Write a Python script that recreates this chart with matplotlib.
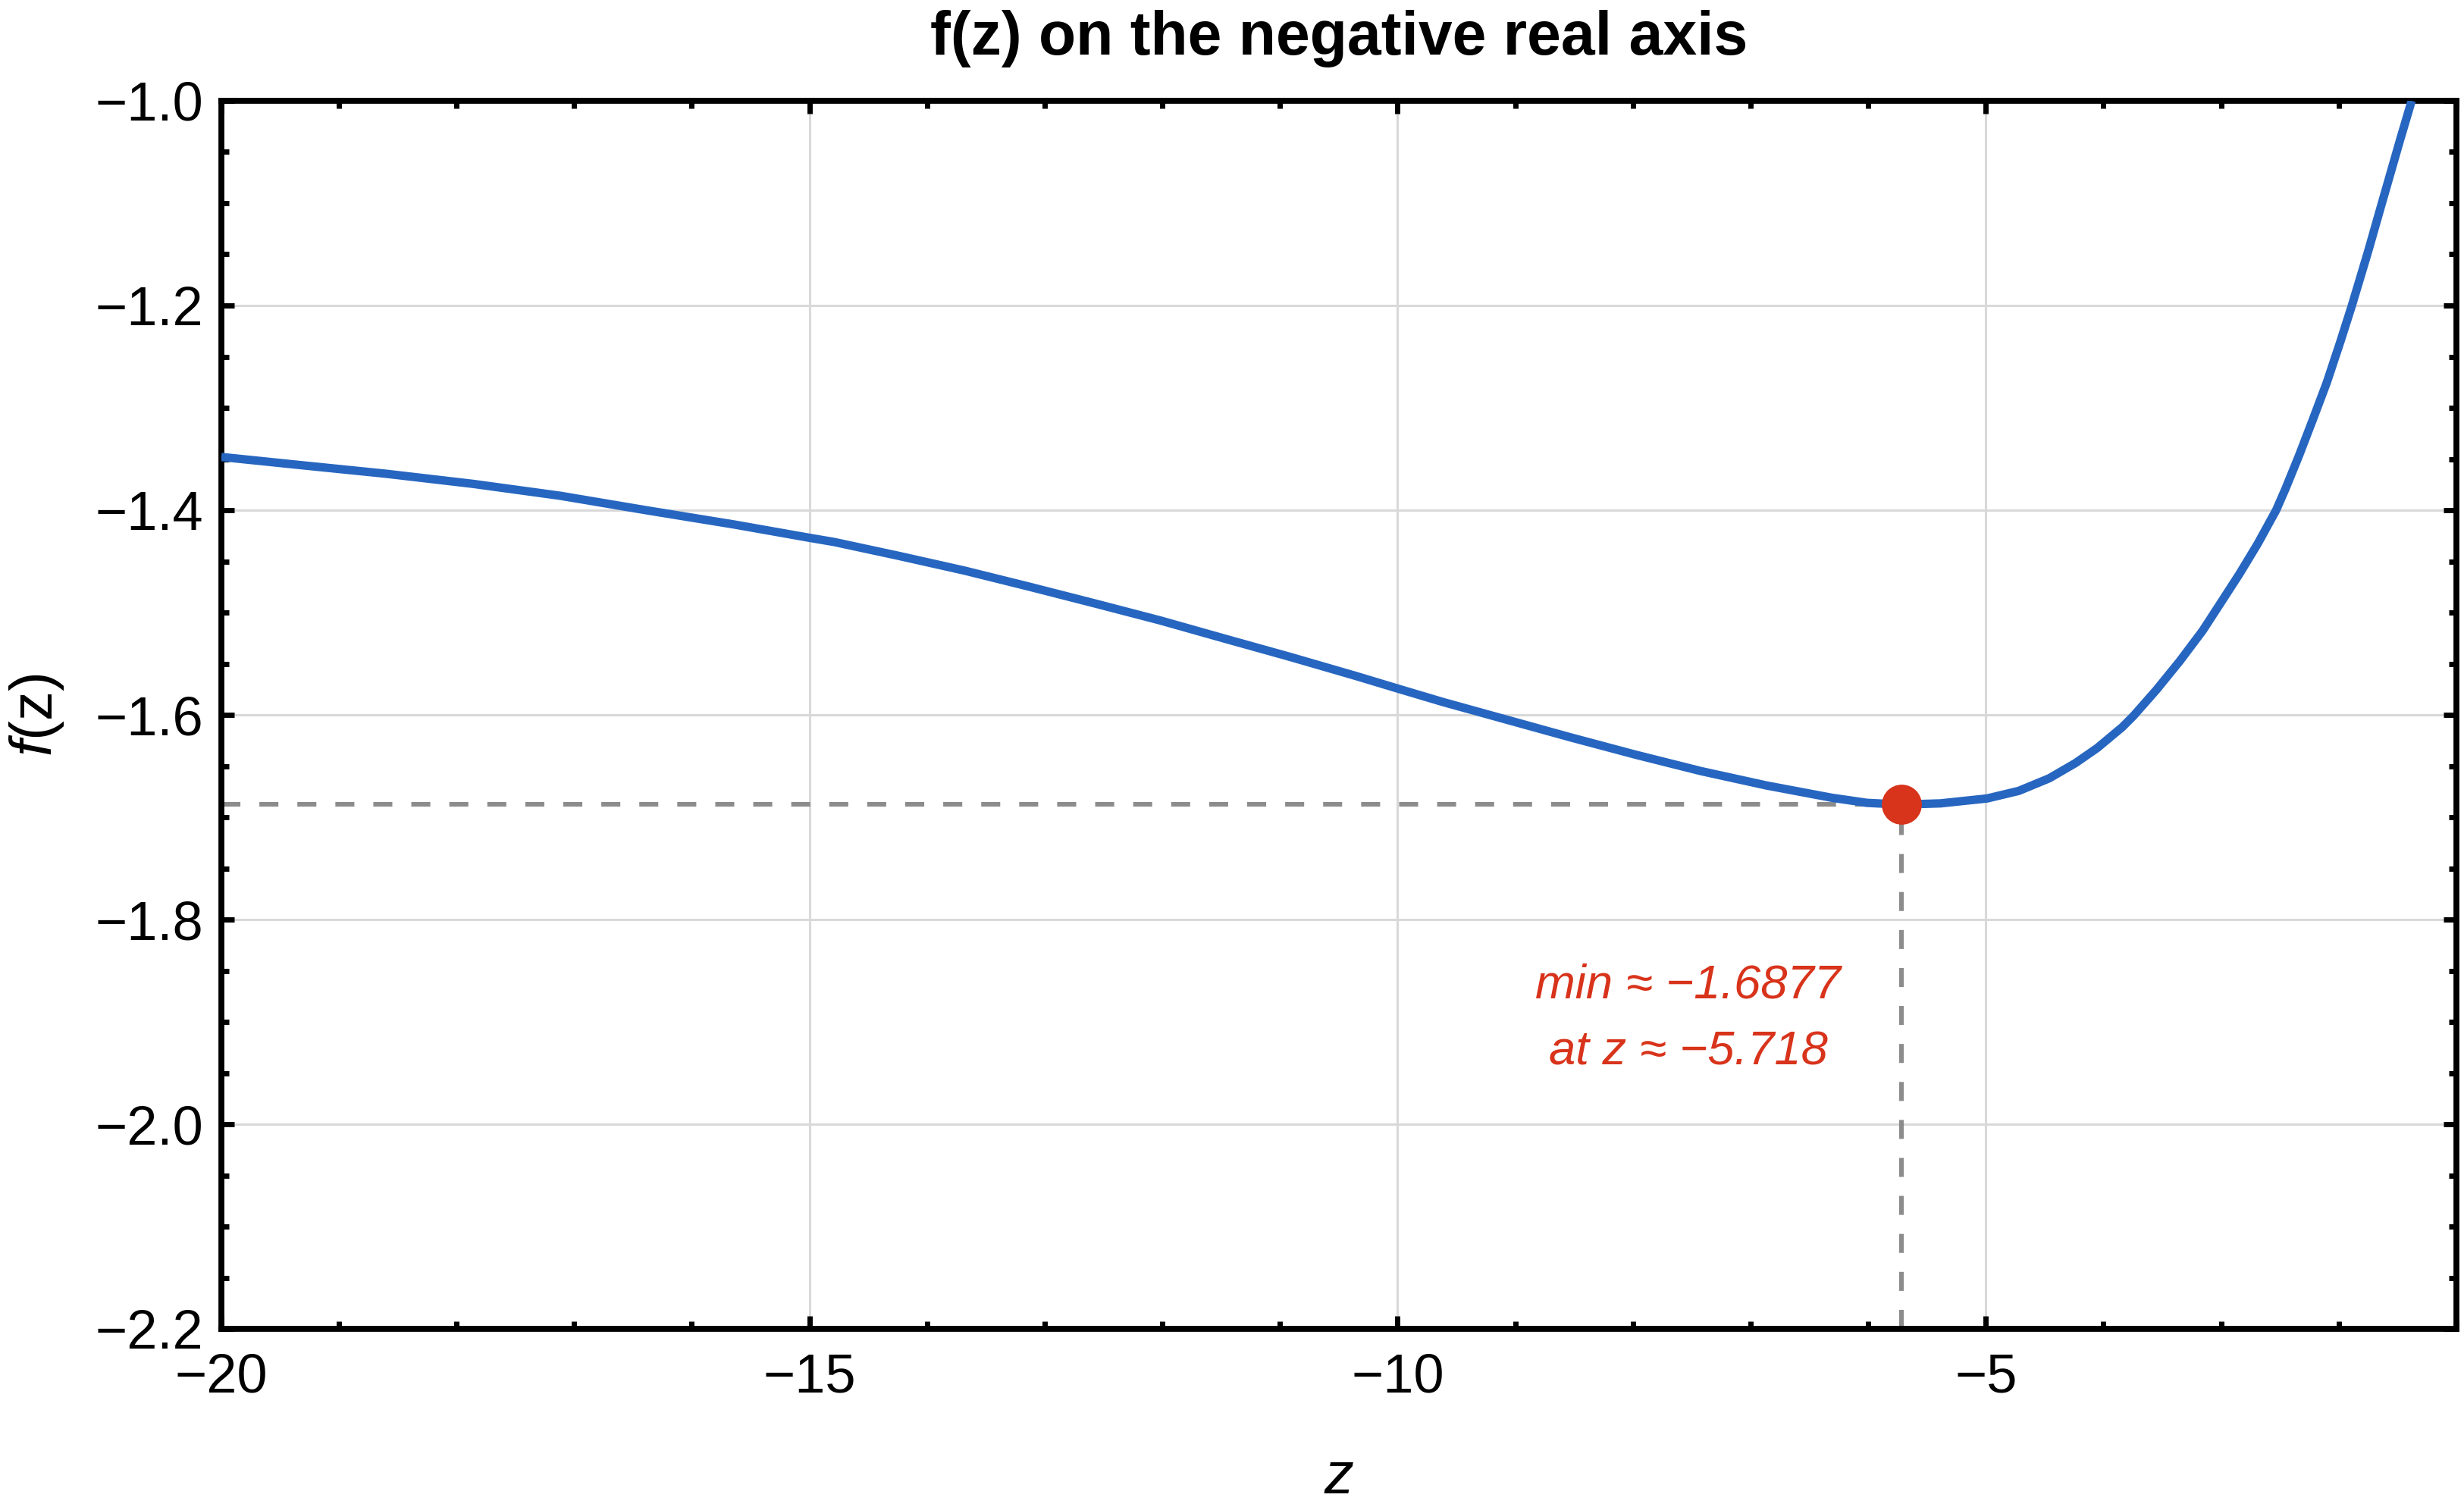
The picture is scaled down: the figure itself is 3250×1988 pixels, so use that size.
import matplotlib
matplotlib.use('Agg')
import matplotlib.pyplot as plt
from matplotlib.ticker import MultipleLocator

# values
z_vals = [-20.0, -19.34, -18.6, -17.86, -17.12, -16.38, -15.64, -15.0, -14.79,
          -14.239, -13.684, -13.13, -12.575, -12.02, -11.465, -10.91, -10.355,
          -10.0, -9.617, -9.08, -8.53, -7.975, -7.42, -6.865, -6.31, -6.01,
          -5.718, -5.385, -4.989, -4.72, -4.461, -4.239, -4.054, -3.84, -3.742,
          -3.547, -3.352, -3.157, -3.001, -2.845, -2.688, -2.532, -2.454,
          -2.337, -2.22, -2.102, -1.985, -1.888, -1.751, -1.653, -1.478, -1.38]
f_vals = [-1.348, -1.3558, -1.3644, -1.3743, -1.3859, -1.4002, -1.414, -1.427,
          -1.4311, -1.4447, -1.459, -1.4748, -1.4911, -1.5077, -1.5257, -1.5435,
          -1.562, -1.5743, -1.5874, -1.6045, -1.622, -1.639, -1.655, -1.669,
          -1.681, -1.686, -1.6877, -1.6865, -1.6817, -1.6743, -1.662, -1.6472,
          -1.6325, -1.612, -1.6007, -1.5752, -1.5476, -1.5178, -1.4902, -1.4625,
          -1.4327, -1.400, -1.3795, -1.3465, -1.3115, -1.2755, -1.235, -1.200,
          -1.1475, -1.108, -1.038, -1.000]
z_min = -5.718
f_min = -1.6877
x_ticks = [-20, -15, -10, -5]
y_ticks = [-2.2, -2.0, -1.8, -1.6, -1.4, -1.2, -1.0]

blue = '#2766c0'
red = '#d8331b'
gray = '#8c8c8c'

plt.rcParams['font.family'] = ['Liberation Sans', 'DejaVu Sans']
plt.rcParams['mathtext.fontset'] = 'custom'
plt.rcParams['mathtext.rm'] = 'Liberation Sans'
plt.rcParams['mathtext.it'] = 'Liberation Sans:italic'

fig = plt.figure(figsize=(16.25, 9.94), dpi=200)
ax = fig.add_subplot(111)
fig.subplots_adjust(left=0.0898, right=0.9969, bottom=0.1182, top=0.9331)

ax.set_xlim(-20, -1)
ax.set_ylim(-2.2, -1.0)

ax.grid(True, which='major', color='#d9d9d9', lw=1.1, zorder=0)
ax.set_axisbelow(True)

# reference lines to the minimum
ax.plot([-20, z_min], [f_min, f_min], color=gray, lw=2.2,
        dashes=(4.1, 4.1), zorder=2)
ax.plot([z_min, z_min], [-2.2, f_min], color=gray, lw=2.2,
        dashes=(4.1, 4.1), zorder=2)

ax.plot(z_vals, f_vals, color=blue, lw=4.0, zorder=3,
        solid_capstyle='butt', solid_joinstyle='round')
ax.plot([z_min], [f_min], 'o', color=red, ms=19, mec='none', zorder=4,
        clip_on=False)

ax.text(-7.53, -1.897, 'min \u2248 \u22121.6877\nat z \u2248 \u22125.718',
        color=red, fontsize=22.8, style='italic', ha='center', va='center',
        linespacing=1.65)

ax.set_xticks(x_ticks)
ax.set_yticks(y_ticks)
ax.set_yticklabels([f'{v:.1f}'.replace('-', '\u2212') for v in y_ticks])
ax.set_xticklabels([str(v).replace('-', '\u2212') for v in x_ticks])
ax.xaxis.set_minor_locator(MultipleLocator(1))
ax.yaxis.set_minor_locator(MultipleLocator(0.05))
ax.tick_params(which='both', direction='in', top=True, right=True,
               width=2.5, labelsize=26)
ax.tick_params(axis='x', which='major', pad=11.5)
ax.tick_params(axis='y', which='major', pad=8.5)
ax.tick_params(which='major', length=6)
ax.tick_params(which='minor', length=3.5)

for s in ax.spines.values():
    s.set_linewidth(2.8)

ax.set_xlabel('$\\mathit{z}$', fontsize=28, labelpad=22)
ax.set_ylabel('$\\mathit{f}\\mathrm{(z)}$', fontsize=28, labelpad=14)
ax.set_title('f(z) on the negative real axis', fontsize=29,
             fontweight='bold', pad=22)

fig.savefig('out.png', dpi=200)
